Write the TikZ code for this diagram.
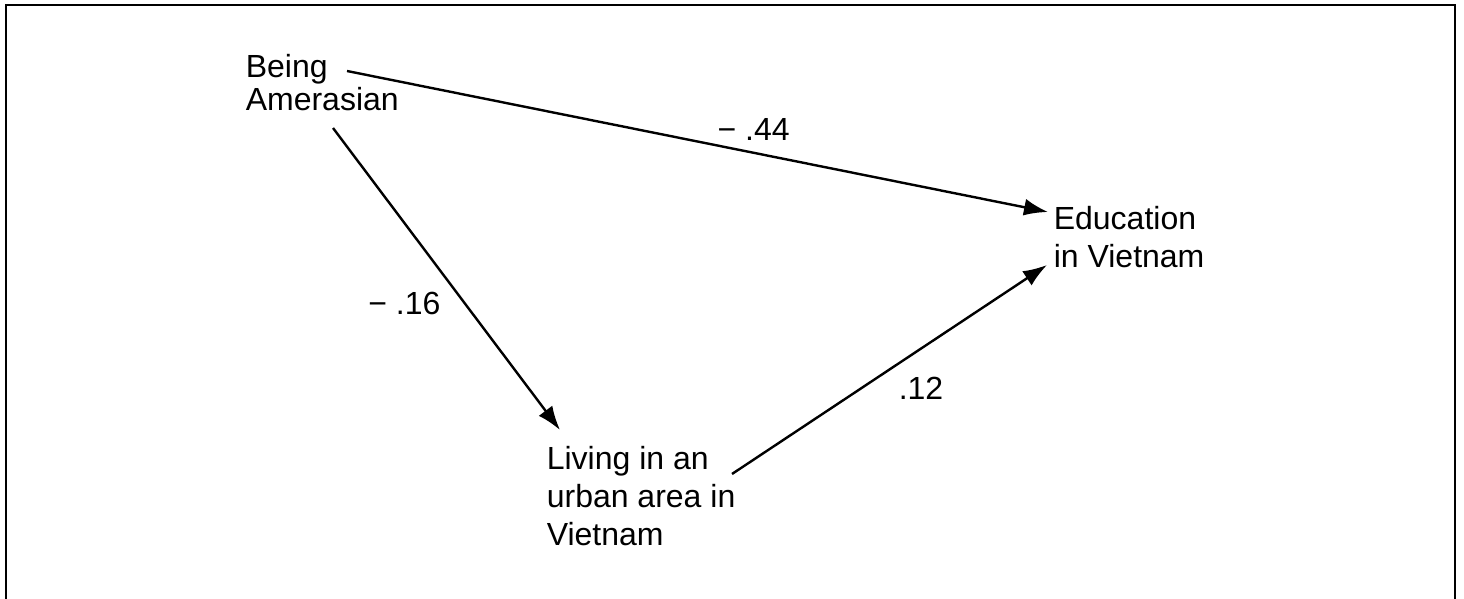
\documentclass[tikz,border=0pt]{standalone}
\usepackage{fontspec}
\setmainfont{Liberation Sans}
\usetikzlibrary{positioning,arrows.meta}

\begin{document}
\begin{tikzpicture}[
    thick,
    var/.style={inner sep=0pt, anchor=north west, align=left, font=\fontsize{16}{19}\selectfont},
    coef/.style={inner sep=0pt, font=\fontsize{16}{18}\selectfont},
    arrow/.style={-{Latex[length=12pt,width=8.5pt]}, line width=1.2pt}
]
    \useasboundingbox (0,0) rectangle (732pt,-299.5pt);
    \draw [line width=1.1pt] (3pt,-299.5pt) |- (727.5pt,-2.5pt) -- (727.5pt,-299.5pt);
    \node (amer) [var, font=\fontsize{16}{16.5}\selectfont] at (122.5pt,-27pt) {Being\\Amerasian};
    \node (urban) [var, below right=196pt and 150.5pt of amer.north west] {Living in an\\urban area in\\Vietnam};
    \node (edu) [var, below right=76pt and 404pt of amer.north west] {Education\\in Vietnam};
    \draw [arrow] ([shift={(51pt,-8.5pt)}]amer.north west) -- node [coef, pos=0.58, above=5.5pt] {− .44} ([shift={(-2.5pt,-3pt)}]edu.north west);
    \draw [arrow] ([shift={(44pt,-37pt)}]amer.north west) -- node [coef, pos=0.58, left=11.5pt] {− .16} ([shift={(7pt,8pt)}]urban.north west);
    \draw [arrow] ([shift={(93pt,-14pt)}]urban.north west) -- node [coef, pos=0.6, below=13.7pt] {.12} ([shift={(-3pt,-29.5pt)}]edu.north west);
\end{tikzpicture}
\end{document}
